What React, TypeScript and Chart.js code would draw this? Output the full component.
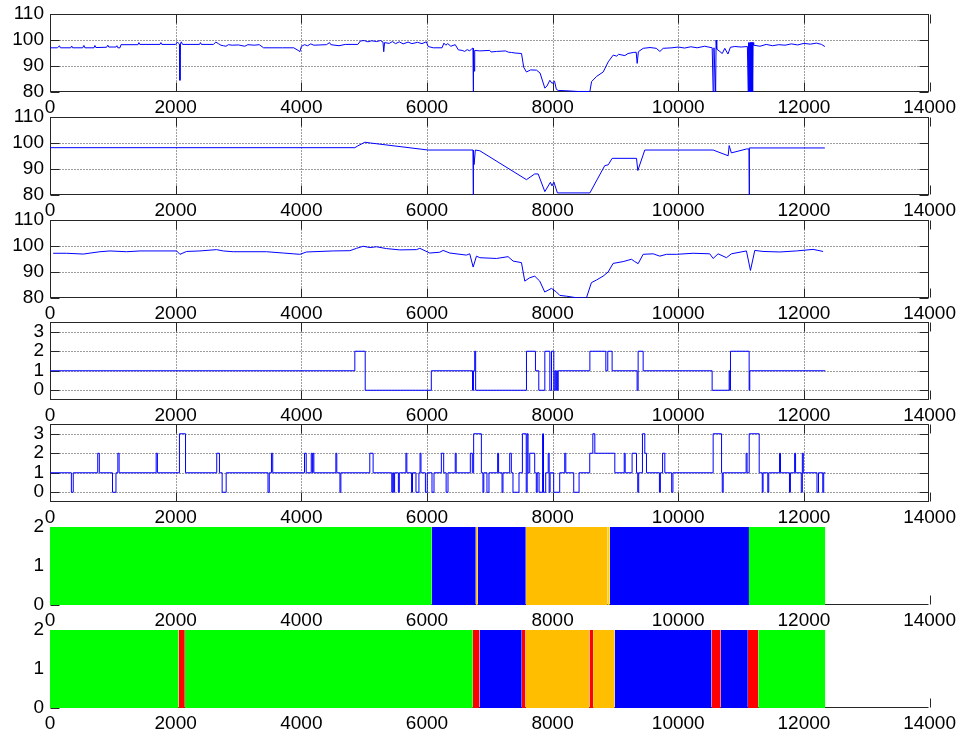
import React, { useEffect, useRef } from 'react';
import { Chart, registerables } from 'chart.js';

Chart.register(...registerables);

// ---------- tick labels ----------
const X_TICKS = [0, 2000, 4000, 6000, 8000, 10000, 12000, 14000];
const Y_TICKS_PCT = [80, 90, 100, 110];
const Y_TICKS_STATE = [0, 1, 2, 3];
const Y_TICKS_MAP = [0, 1, 2];
const END_X = 12340;

// ---------- panel 1: raw signal ----------
const P1_X = [0, 120, 150, 165, 330, 345, 360, 520, 540, 555, 700, 715, 730, 900, 920, 935, 1050, 1065, 1080, 1114, 1130, 1400, 1415, 1430, 1750, 1765, 1780, 2000, 2030, 2050, 2060, 2068, 2075, 2090, 2110, 2380, 2395, 2410, 2600, 2640, 2680, 2720, 2760, 2800, 2840, 2900, 3000, 3100, 3150, 3250, 3330, 3400, 3700, 3880, 3950, 3977, 4000, 4050, 4100, 4150, 4200, 4400, 4450, 4470, 4600, 4700, 4900, 4940, 5000, 5060, 5120, 5200, 5260, 5300, 5312, 5325, 5400, 5450, 5500, 5560, 5620, 5700, 5760, 5850, 5920, 5990, 6020, 6100, 6240, 6270, 6300, 6330, 6380, 6450, 6500, 6560, 6600, 6640, 6680, 6720, 6733, 6736, 6742, 6752, 6760, 6842, 7000, 7020, 7107, 7250, 7300, 7346, 7400, 7505, 7540, 7584, 7650, 7744, 7800, 7876, 7910, 7956, 7990, 8030, 8060, 8089, 8200, 8400, 8593, 8620, 8700, 8805, 8885, 8964, 9020, 9050, 9150, 9200, 9283, 9330, 9346, 9365, 9442, 9550, 9650, 9707, 9760, 9900, 10000, 10100, 10200, 10300, 10420, 10540, 10555, 10568, 10595, 10602, 10612, 10650, 10700, 10740, 10790, 10830, 10900, 11000, 11100, 11113, 11120, 11127, 11134, 11141, 11148, 11155, 11162, 11169, 11176, 11183, 11190, 11200, 11300, 11400, 11500, 11600, 11700, 11800, 11900, 12000, 12100, 12200, 12280, 12333];
const P1_Y = [97.0, 97.0, 97.8, 97.0, 97.0, 97.7, 97.0, 97.0, 97.9, 97.0, 97.0, 97.9, 97.1, 97.2, 98.0, 97.3, 97.3, 97.8, 97.0, 97.0, 98.2, 98.2, 99.0, 98.3, 98.3, 99.0, 98.3, 98.3, 99.2, 98.6, 98.4, 84.5, 98.4, 99.3, 98.3, 98.3, 99.0, 98.3, 98.3, 99.2, 98.6, 98.0, 97.8, 97.6, 98.2, 98.0, 98.1, 97.6, 98.2, 98.0, 98.2, 97.0, 97.0, 97.0, 96.0, 95.5, 97.5, 98.2, 97.8, 98.5, 98.0, 98.2, 99.0, 98.2, 97.8, 98.3, 98.3, 99.6, 99.8, 99.3, 99.7, 99.4, 99.8, 99.2, 95.5, 99.0, 98.7, 99.4, 98.6, 99.3, 98.5, 99.2, 98.6, 99.1, 98.6, 99.3, 97.5, 97.0, 97.0, 98.8, 98.0, 98.6, 97.6, 98.2, 96.2, 96.0, 95.6, 96.3, 95.8, 96.8, 96.8, 80, 96.5, 88, 96.0, 95.8, 96.0, 95.4, 95.6, 95.8, 95.3, 95.2, 95.0, 94.8, 89.5, 87.7, 88.5, 88.4, 87.3, 81.5, 82.3, 84.5, 83.3, 84.2, 81.0, 80.6, 80.5, 80.2, 80.2, 84, 86.0, 87.7, 91.6, 94.2, 93.8, 94.5, 94.0, 94.8, 95.2, 95.3, 91.0, 95.5, 96.8, 97.1, 96.8, 95.6, 96.8, 97.0, 97.3, 96.9, 97.4, 97.0, 97.6, 97.0, 80, 97.0, 80, 100, 96.5, 95.8, 94.8, 96.8, 94.6, 97.2, 97.5, 97.3, 97.5, 80, 99, 80, 99, 80, 99, 80, 99, 80, 99, 80, 99, 98.0, 97.6, 98.3, 97.8, 98.2, 98.0, 98.5, 98.1, 98.7, 98.4, 98.8, 98.3, 97.5];

// ---------- panel 2: interpolated signal ----------
const P2_X = [0, 4852, 4900, 5012, 5100, 6019, 6733, 6736, 6741, 6750, 6770, 6842, 7584, 7715, 7770, 7876, 7965, 7990, 8020, 8076, 8593, 8830, 8885, 8947, 9335, 9356, 9467, 10555, 10794, 10810, 10845, 11087, 11126, 11129, 11133, 12333];
const P2_Y = [98.2, 98.2, 98.9, 100.3, 100.0, 97.3, 97.3, 80, 97.3, 91.7, 97.3, 97.0, 85.9, 88.1, 88.1, 81.3, 84.9, 83.5, 85.0, 80.8, 80.8, 91.3, 91.6, 94.1, 94.1, 89.4, 97.3, 97.3, 95.1, 99.0, 96.2, 97.7, 97.7, 80, 98.1, 98.1];

// ---------- panel 3: smoothed signal ----------
const P3_X = [50, 265, 530, 795, 955, 1220, 1432, 2015, 2068, 2174, 2386, 2651, 2757, 2917, 3447, 3712, 3871, 3977, 4083, 4507, 4773, 4879, 4985, 5091, 5197, 5356, 5568, 5833, 5886, 6045, 6204, 6257, 6363, 6628, 6681, 6735, 6788, 6841, 7106, 7291, 7371, 7504, 7557, 7636, 7716, 7795, 7875, 7981, 8061, 8114, 8220, 8379, 8538, 8617, 8697, 8803, 8883, 8963, 9122, 9255, 9308, 9361, 9441, 9600, 9706, 9812, 9971, 10236, 10501, 10555, 10634, 10767, 10846, 11085, 11149, 11218, 11350, 11616, 11881, 12146, 12305];
const P3_Y = [97.2, 97.2, 96.9, 97.8, 98.1, 97.8, 98.1, 98.1, 96.8, 97.9, 98.1, 98.6, 98.1, 97.8, 97.8, 97.3, 97.0, 96.8, 97.7, 98.1, 98.2, 99.1, 99.9, 99.4, 99.7, 99.0, 98.5, 98.6, 99.1, 97.3, 97.6, 98.3, 97.3, 96.5, 97.0, 91.9, 96.1, 95.5, 95.2, 95.9, 94.2, 93.6, 86.5, 87.8, 88.4, 86.5, 82.3, 83.7, 82.3, 81.0, 80.7, 80.1, 80.0, 85.9, 86.9, 88.4, 90.0, 93.3, 94.0, 94.9, 94.0, 93.2, 96.8, 97.0, 96.1, 96.8, 96.8, 97.2, 97.0, 95.2, 97.0, 95.5, 97.0, 98.1, 90.6, 98.3, 97.9, 97.7, 98.1, 98.7, 97.9];

// ---------- panel 4: state sequence (change points) ----------
const P4_X = [0, 4852, 5017, 6069, 6725, 6740, 6760, 6775, 7584, 7727, 7780, 7876, 7956, 7982, 8019, 8035, 8050, 8065, 8075, 8089, 8593, 8847, 8878, 8947, 9345, 9361, 9441, 10539, 10810, 10822, 10831, 11128, 11138];
const P4_Y = [1, 2, 0, 1, 0, 1, 2, 0, 2, 1, 0, 2, 0, 2, 0, 1, 0, 1, 0, 1, 2, 1, 2, 1, 0, 2, 1, 0, 1, 0, 2, 0, 1];

// ---------- panel 5: state sequence (change points) ----------
const P5_X = [0, 340, 370, 760, 785, 995, 1050, 1080, 1100, 1690, 1710, 2060, 2157, 2654, 2697, 2740, 2804, 3470, 3490, 3525, 3545, 4051, 4078, 4158, 4175, 4185, 4200, 4550, 4565, 4615, 4630, 5090, 5143, 5440, 5455, 5470, 5485, 5545, 5560, 5665, 5680, 5755, 5770, 5825, 5872, 5890, 5905, 5975, 6005, 6080, 6112, 6229, 6266, 6305, 6335, 6450, 6465, 6690, 6722, 6743, 6866, 6891, 6905, 6955, 6987, 7125, 7140, 7195, 7210, 7317, 7343, 7369, 7465, 7519, 7580, 7595, 7609, 7636, 7715, 7740, 7755, 7784, 7840, 7855, 7890, 7930, 7945, 7960, 8017, 8113, 8193, 8210, 8336, 8421, 8591, 8640, 8672, 8990, 9140, 9155, 9265, 9335, 9355, 9370, 9430, 9467, 9494, 9700, 9715, 9750, 9786, 9895, 9915, 10555, 10689, 10700, 10715, 11080, 11095, 11129, 11288, 11337, 11350, 11425, 11440, 11612, 11627, 11770, 11785, 11852, 11867, 11958, 11975, 11990, 12208, 12232, 12300, 12315];
const P5_Y = [1, 0, 1, 2, 1, 0, 1, 2, 1, 2, 1, 3, 1, 2, 1, 0, 1, 0, 1, 2, 1, 2, 1, 2, 1, 2, 1, 2, 1, 0, 1, 2, 1, 0, 1, 0, 1, 0, 1, 2, 1, 0, 1, 0, 1, 2, 1, 0, 1, 0, 1, 2, 1, 0, 1, 2, 1, 2, 1, 3, 1, 0, 1, 0, 1, 2, 1, 0, 1, 2, 1, 0, 1, 3, 0, 3, 1, 2, 1, 0, 1, 0, 3, 0, 1, 2, 0, 1, 0, 1, 2, 1, 0, 1, 2, 3, 2, 1, 2, 1, 2, 1, 0, 1, 3, 2, 1, 0, 1, 2, 1, 0, 1, 3, 1, 0, 1, 2, 1, 3, 1, 0, 1, 0, 1, 2, 1, 0, 1, 2, 1, 0, 2, 1, 0, 1, 0, 1];

// ---------- panel 6 / 7: class maps ----------
const P6_EDGES = [0, 6077, 6777, 6809, 7573, 8877, 8909, 11125, 12340];
const P6_CLASS = ['green', 'blue', 'orange', 'blue', 'orange', 'yellow', 'blue', 'green'];
const P7_EDGES = [0, 2047, 2146, 6730, 6836, 7509, 7569, 8586, 8645, 8987, 10530, 10675, 11107, 11273, 12340];
const P7_CLASS = ['green', 'red', 'green', 'red', 'blue', 'red', 'orange', 'red', 'orange', 'blue', 'red', 'blue', 'red', 'green'];

const CLASS_COLORS: Record<string, string> = {
  green: '#00ff00',
  blue: '#0000ff',
  orange: '#ffbf00',
  yellow: '#ffd200',
  red: '#ff0000',
};

const BLUE = '#0000ff';
const FONT = "'Liberation Sans', Arial, Helvetica, sans-serif";
const PAD_TOP = 20;
const AREA_H = 78;
const AXIS_H = 30;
const CANVAS_H = PAD_TOP + AREA_H + AXIS_H;

type Kind = 'line' | 'step' | 'band';
interface PanelCfg {
  top: number;
  kind: Kind;
  xs?: number[];
  ys?: number[];
  edges?: number[];
  classes?: string[];
  yMin: number;
  yMax: number;
  yTicks: number[];
}

const PANELS: PanelCfg[] = [
  { top: 14, kind: 'line', xs: P1_X, ys: P1_Y, yMin: 80, yMax: 110, yTicks: Y_TICKS_PCT },
  { top: 117, kind: 'line', xs: P2_X, ys: P2_Y, yMin: 80, yMax: 110, yTicks: Y_TICKS_PCT },
  { top: 220, kind: 'line', xs: P3_X, ys: P3_Y, yMin: 80, yMax: 110, yTicks: Y_TICKS_PCT },
  { top: 322, kind: 'step', xs: P4_X, ys: P4_Y, yMin: -0.5, yMax: 3.5, yTicks: Y_TICKS_STATE },
  { top: 424, kind: 'step', xs: P5_X, ys: P5_Y, yMin: -0.5, yMax: 3.5, yTicks: Y_TICKS_STATE },
  { top: 527, kind: 'band', edges: P6_EDGES, classes: P6_CLASS, yMin: 0, yMax: 2, yTicks: Y_TICKS_MAP },
  { top: 630, kind: 'band', edges: P7_EDGES, classes: P7_CLASS, yMin: 0, yMax: 2, yTicks: Y_TICKS_MAP },
];

const matlabAxes = {
  id: 'matlabAxes',
  beforeDatasetsDraw(chart: any, _args: any, opts: any) {
    const { ctx, chartArea: a, scales } = chart;
    const xs = scales.x;
    const ys = scales.y;
    const L = Math.floor(a.left) + 0.5;
    const R = Math.floor(a.right) - 0.5;
    const T = Math.floor(a.top) + 0.5;
    const B = Math.floor(a.bottom) - 0.5;
    const TL = 9;
    const xPix = (v: number) => Math.round(xs.getPixelForValue(v)) + 0.5;
    const yPix = (v: number) => Math.round(ys.getPixelForValue(v)) + 0.5;
    const xt: number[] = xs.ticks.map((t: any) => t.value);
    const yt: number[] = ys.ticks.map((t: any) => t.value);
    ctx.save();
    ctx.lineWidth = 1;
    if (opts.box) {
      ctx.strokeStyle = '#3a3a3a';
      ctx.setLineDash([1, 2]);
      ctx.beginPath();
      xt.forEach((v) => {
        const p = xPix(v);
        if (p > L + 1 && p < R - 1) {
          ctx.moveTo(p, T);
          ctx.lineTo(p, B);
        }
      });
      yt.forEach((v) => {
        const p = yPix(v);
        if (p > T + 1 && p < B - 1) {
          ctx.moveTo(L, p);
          ctx.lineTo(R, p);
        }
      });
      ctx.stroke();
      ctx.setLineDash([]);
      ctx.strokeStyle = '#262626';
      ctx.strokeRect(L, T, R - L, B - T);
      ctx.beginPath();
      xt.forEach((v) => {
        const p = xPix(v);
        ctx.moveTo(p, B);
        ctx.lineTo(p, B - TL);
        ctx.moveTo(p, T);
        ctx.lineTo(p, T + TL);
      });
      yt.forEach((v) => {
        const p = yPix(v);
        ctx.moveTo(L, p);
        ctx.lineTo(L + TL, p);
        ctx.moveTo(R, p);
        ctx.lineTo(R - TL, p);
      });
      ctx.stroke();
    } else {
      ctx.strokeStyle = '#262626';
      ctx.beginPath();
      ctx.moveTo(L, T);
      ctx.lineTo(L, B);
      ctx.lineTo(R, B);
      xt.forEach((v) => {
        const p = xPix(v);
        ctx.moveTo(p, B);
        ctx.lineTo(p, B - TL);
      });
      yt.forEach((v) => {
        const p = yPix(v);
        ctx.moveTo(L, p);
        ctx.lineTo(L + TL, p);
      });
      ctx.stroke();
    }
    ctx.restore();
  },
};

function buildDatasets(cfg: PanelCfg): any[] {
  if (cfg.kind === 'band') {
    const edges = cfg.edges!;
    return cfg.classes!.map((c, i) => ({
      data: [
        { x: edges[i], y: cfg.yMax },
        { x: edges[i + 1], y: cfg.yMax },
      ],
      borderWidth: 0,
      borderColor: 'rgba(0,0,0,0)',
      backgroundColor: CLASS_COLORS[c],
      fill: 'origin',
      pointRadius: 0,
    }));
  }
  const pts = cfg.xs!.map((x, i) => ({ x, y: cfg.ys![i] }));
  if (cfg.kind === 'step') {
    pts.push({ x: END_X, y: cfg.ys![cfg.ys!.length - 1] });
  }
  return [
    {
      data: pts,
      borderColor: BLUE,
      borderWidth: 1,
      pointRadius: 0,
      fill: false,
      tension: 0,
      stepped: cfg.kind === 'step' ? 'before' : false,
    },
  ];
}

function Panel({ cfg }: { cfg: PanelCfg }) {
  const ref = useRef<HTMLCanvasElement>(null);
  useEffect(() => {
    const tickFont = { family: FONT, size: 19 };
    const chart = new Chart(ref.current as HTMLCanvasElement, {
      type: 'line',
      data: { datasets: buildDatasets(cfg) },
      options: {
        responsive: false,
        animation: false,
        events: [],
        layout: { padding: { top: PAD_TOP, right: 30, left: 0, bottom: 0 } },
        plugins: {
          legend: { display: false },
          tooltip: { enabled: false },
          matlabAxes: { box: cfg.kind !== 'band' },
        } as any,
        scales: {
          x: {
            type: 'linear',
            min: 0,
            max: 14000,
            grid: { display: false, drawTicks: false },
            border: { display: false },
            afterBuildTicks: (s: any) => {
              s.ticks = X_TICKS.map((v) => ({ value: v }));
            },
            afterFit: (s: any) => {
              s.height = AXIS_H;
            },
            ticks: {
              autoSkip: false,
              maxRotation: 0,
              padding: 4,
              color: '#000',
              font: tickFont,
              callback: (v: any) => String(v),
            },
          },
          y: {
            type: 'linear',
            min: cfg.yMin,
            max: cfg.yMax,
            grid: { display: false, drawTicks: false },
            border: { display: false },
            afterBuildTicks: (s: any) => {
              s.ticks = cfg.yTicks.map((v) => ({ value: v }));
            },
            afterFit: (s: any) => {
              s.width = 50;
            },
            ticks: {
              autoSkip: false,
              padding: 6,
              color: '#000',
              font: tickFont,
              callback: (v: any) => String(v),
            },
          },
        },
      } as any,
      plugins: [matlabAxes as any],
    });
    return () => chart.destroy();
  }, [cfg]);
  return (
    <canvas
      ref={ref}
      width={960}
      height={CANVAS_H}
      style={{ position: 'absolute', left: 0, top: cfg.top - PAD_TOP, width: 960, height: CANVAS_H }}
    />
  );
}

export default function App() {
  return (
    <div
      style={{
        position: 'fixed',
        left: 0,
        top: 0,
        width: 960,
        height: 737,
        background: '#ffffff',
        overflow: 'hidden',
      }}
    >
      {PANELS.map((p, i) => (
        <Panel key={i} cfg={p} />
      ))}
    </div>
  );
}
